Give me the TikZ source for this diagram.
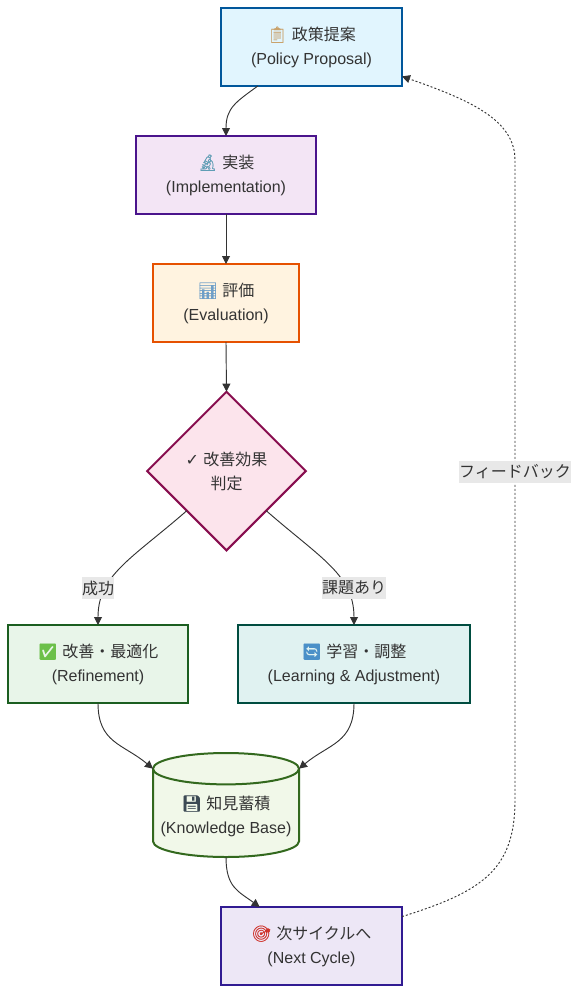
\documentclass[tikz,border=0pt]{standalone}
\usepackage{fontspec}
\usepackage{xcolor}
\setmainfont{Liberation Sans}
\newfontfamily\jafont{Noto Sans CJK JP}
\newfontfamily\emojifont[FakeBold=0.6]{Noto Emoji}
\newfontfamily\symfont{DejaVu Sans}
\usetikzlibrary{arrows.meta, positioning, shapes.geometric}
\definecolor{inkgray}{HTML}{333333}
\definecolor{proposalfill}{HTML}{E1F5FE}
\definecolor{proposalline}{HTML}{01579B}
\definecolor{implfill}{HTML}{F3E5F5}
\definecolor{implline}{HTML}{4A148C}
\definecolor{evalfill}{HTML}{FFF3E0}
\definecolor{evalline}{HTML}{E65100}
\definecolor{checkfill}{HTML}{FCE4EC}
\definecolor{checkline}{HTML}{880E4F}
\definecolor{refinefill}{HTML}{E8F5E9}
\definecolor{refineline}{HTML}{1B5E20}
\definecolor{learnfill}{HTML}{E0F2F1}
\definecolor{learnline}{HTML}{004D40}
\definecolor{kbfill}{HTML}{F1F8E9}
\definecolor{kbline}{HTML}{33691E}
\definecolor{nextfill}{HTML}{EDE7F6}
\definecolor{nextline}{HTML}{311B92}
\newcommand{\emo}[2]{{\emojifont\textcolor[HTML]{#1}{#2}}}
\tikzset{
  base/.style={draw, line width=1.5pt, text=inkgray, align=center, inner sep=0pt, outer sep=0pt,
    font=\fontsize{12}{18}\selectfont},
  boxnode/.style={base, rectangle, minimum width=#1*0.75pt, minimum height=58.5pt},
  flow/.style={draw=inkgray, line width=0.7pt, -{Triangle[length=6pt, width=6pt]}},
  feedback/.style={flow, dash pattern=on 1.5pt off 1.5pt},
  edgelabel/.style={fill=black!9, text=inkgray, inner xsep=0pt, inner ysep=0pt, minimum height=16.5pt,
    font=\fontsize{12}{18}\selectfont\jafont}
}
\begin{document}
\begin{tikzpicture}[x=0.75pt, y=-0.75pt]
  \useasboundingbox (0,0) rectangle (579,993);
  % main column
  \node[boxnode=181, fill=proposalfill, draw=proposalline] (proposal) at (311.5,47)
    {\emo{C9A26B}{📋} {\jafont 政策提案}\\(Policy Proposal)};
  \node[boxnode=180, fill=implfill, draw=implline] (impl) at (226,175)
    {\emo{5F9DB5}{🔬} {\jafont 実装}\\(Implementation)};
  \node[boxnode=146, fill=evalfill, draw=evalline] (eval) at (226,303)
    {\emo{6F9FC8}{📊} {\jafont 評価}\\(Evaluation)};
  \node[base, diamond, aspect=1, minimum width=119pt, minimum height=119pt, fill=checkfill, draw=checkline] (check) at (226.5,471)
    {{\symfont ✓} {\jafont 改善効果}\\{\jafont 判定}};
  % branches
  \node[boxnode=180, fill=refinefill, draw=refineline] (refine) at (98,664)
    {\emo{6CC04A}{✅} {\jafont 改善・最適化}\\(Refinement)};
  \node[boxnode=232, fill=learnfill, draw=learnline] (learn) at (354,664)
    {\emo{4A90C8}{🔄} {\jafont 学習・調整}\\(Learning \& Adjustment)};
  \node[base, cylinder, shape border rotate=90, aspect=0.24, anchor=shape center, minimum width=109.5pt, minimum height=78pt,
    text height=32pt, fill=kbfill, draw=kbline] (kb) at (226,805)
    {\emo{3C4A54}{💾} {\jafont 知見蓄積}\\(Knowledge Base)};
  \node[boxnode=181, fill=nextfill, draw=nextline] (next) at (311.5,946)
    {\emo{D0342C}{🎯} {\jafont 次サイクルへ}\\(Next Cycle)};
  % feedback route
  \coordinate (fbklow) at (515,800);
  \coordinate (fbkup) at (515,160);
  % connectors
  \draw[flow] (proposal.216) .. controls +(-22,16) and +(0,-28) .. (impl.north);
  \draw[flow] (impl.south) -- (eval.north);
  \draw[flow] (eval.south) -- (check.north);
  \draw[flow] (check.225) .. controls +(-55,48) and +(0,-50) .. (refine.north);
  \draw[flow] (check.-45) .. controls +(55,48) and +(0,-50) .. (learn.north);
  \draw[flow] (refine.south) .. controls +(0,40) and +(-30,-25) .. (kb.before top);
  \draw[flow] (learn.south) .. controls +(0,40) and +(30,-25) .. (kb.after top);
  \draw[flow] (kb.south) .. controls +(0,30) and +(-22,-16) .. (next.143);
  \draw[feedback] (next.18) .. controls +(80,-25) and (515,870) .. (fbklow) -- (fbkup)
    .. controls (515,120) and (470,100) .. (proposal.-18);
  % edge labels
  \node[edgelabel] (okmark) at (98,588) {成功};
  \node[edgelabel] (ngmark) at (354,588) {課題あり};
  \node[edgelabel] (fbkmark) at (515,472) {フィードバック};
\end{tikzpicture}
\end{document}
